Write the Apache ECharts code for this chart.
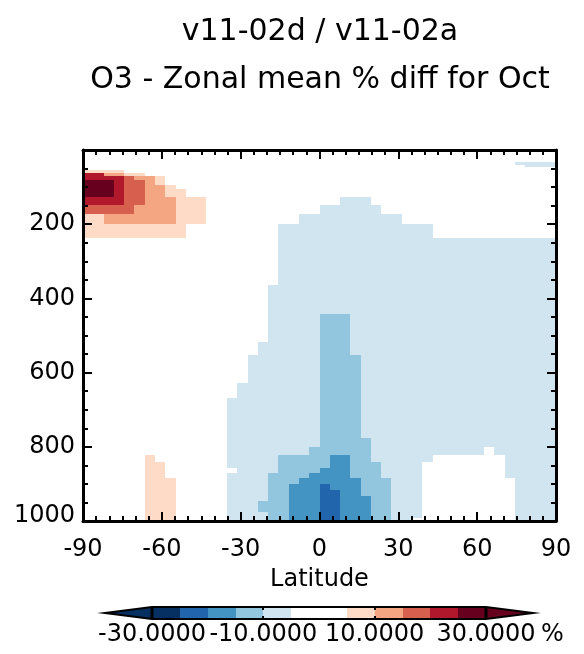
<!DOCTYPE html>
<html><head><meta charset="utf-8"><title>O3 zonal mean % diff</title>
<script src="https://cdn.jsdelivr.net/npm/echarts@6.0.0/dist/echarts.min.js"></script>
<style>html,body{margin:0;padding:0;background:#fff;}#chart{width:584px;height:654px;}</style>
</head><body><div id="chart"></div>
<script>
// ---- titles ----
const TITLE_1 = 'v11-02d / v11-02a';
const TITLE_2 = 'O3 - Zonal mean % diff for Oct';
const X_NAME = 'Latitude';
const UNIT = '%';

// ---- grid: 46 latitude cells spanning -90..90, pressure bands (hPa) ----
const N_LAT_CELLS = 46;
const LAT_EDGES = Array.from({length: N_LAT_CELLS + 1}, (_, i) => -90 + i * 180 / N_LAT_CELLS);
const P_EDGES = [32, 39.5, 46.5, 54, 62, 70, 81, 93.5, 106, 126, 147.5, 172, 199, 236.5, 364, 442, 518,
                 552.5, 628, 668.5, 776, 801, 822, 841, 857, 871, 884.5, 901, 916.5, 932.5, 946, 977, 992, 1000];

// ---- % difference, one row per pressure band (top to bottom), 46 latitude cells each ----
const PCT_DIFF = [
 [0,0,0,0,0,0,0,0,0,0, 0,0,0,0,0,0,0,0,0,0, 0,0,0,0,0,0,0,0,0,0, 0,0,0,0,0,0,0,0,0,0, 0,0,-7,-7,-7,-7],
 [0,0,0,0,0,0,0,0,0,0, 0,0,0,0,0,0,0,0,0,0, 0,0,0,0,0,0,0,0,0,0, 0,0,0,0,0,0,0,0,0,0, 0,0,0,-7,-7,-7],
 [0,0,0,0,0,0,0,0,0,0, 0,0,0,0,0,0,0,0,0,0, 0,0,0,0,0,0,0,0,0,0, 0,0,0,0,0,0,0,0,0,0, 0,0,0,0,0,0],
 [7,7,7,7,0,0,0,0,0,0, 0,0,0,0,0,0,0,0,0,0, 0,0,0,0,0,0,0,0,0,0, 0,0,0,0,0,0,0,0,0,0, 0,0,0,0,0,0],
 [22,22,12,12,7,7,0,0,0,0, 0,0,0,0,0,0,0,0,0,0, 0,0,0,0,0,0,0,0,0,0, 0,0,0,0,0,0,0,0,0,0, 0,0,0,0,0,0],
 [22,22,22,22,17,12,12,7,0,0, 0,0,0,0,0,0,0,0,0,0, 0,0,0,0,0,0,0,0,0,0, 0,0,0,0,0,0,0,0,0,0, 0,0,0,0,0,0],
 [27,27,27,22,17,17,12,7,0,0, 0,0,0,0,0,0,0,0,0,0, 0,0,0,0,0,0,0,0,0,0, 0,0,0,0,0,0,0,0,0,0, 0,0,0,0,0,0],
 [27,27,27,22,17,17,12,12,7,0, 0,0,0,0,0,0,0,0,0,0, 0,0,0,0,0,0,0,0,0,0, 0,0,0,0,0,0,0,0,0,0, 0,0,0,0,0,0],
 [27,27,27,22,17,17,12,12,7,7, 0,0,0,0,0,0,0,0,0,0, 0,0,0,0,0,0,0,0,0,0, 0,0,0,0,0,0,0,0,0,0, 0,0,0,0,0,0],
 [22,22,22,22,17,17,12,12,12,7, 7,7,0,0,0,0,0,0,0,0, 0,0,0,0,0,-7,-7,-7,0,0, 0,0,0,0,0,0,0,0,0,0, 0,0,0,0,0,0],
 [17,17,17,17,17,12,12,12,12,7, 7,7,0,0,0,0,0,0,0,0, 0,0,0,-7,-7,-7,-7,-7,-7,0, 0,0,0,0,0,0,0,0,0,0, 0,0,0,0,0,0],
 [7,7,12,12,12,12,12,12,12,7, 7,7,0,0,0,0,0,0,0,0, 0,-7,-7,-7,-7,-7,-7,-7,-7,-7, -7,0,0,0,0,0,0,0,0,0, 0,0,0,0,0,0],
 [7,7,7,7,7,7,7,7,7,7, 0,0,0,0,0,0,0,0,0,-7, -7,-7,-7,-7,-7,-7,-7,-7,-7,-7, -7,-7,-7,-7,0,0,0,0,0,0, 0,0,0,0,0,0],
 [0,0,0,0,0,0,0,0,0,0, 0,0,0,0,0,0,0,0,0,-7, -7,-7,-7,-7,-7,-7,-7,-7,-7,-7, -7,-7,-7,-7,-7,-7,-7,-7,-7,-7, -7,-7,-7,-7,-7,-7],
 [0,0,0,0,0,0,0,0,0,0, 0,0,0,0,0,0,0,0,-7,-7, -7,-7,-7,-7,-7,-7,-7,-7,-7,-7, -7,-7,-7,-7,-7,-7,-7,-7,-7,-7, -7,-7,-7,-7,-7,-7],
 [0,0,0,0,0,0,0,0,0,0, 0,0,0,0,0,0,0,0,-7,-7, -7,-7,-7,-12,-12,-12,-7,-7,-7,-7, -7,-7,-7,-7,-7,-7,-7,-7,-7,-7, -7,-7,-7,-7,-7,-7],
 [0,0,0,0,0,0,0,0,0,0, 0,0,0,0,0,0,0,-7,-7,-7, -7,-7,-7,-12,-12,-12,-7,-7,-7,-7, -7,-7,-7,-7,-7,-7,-7,-7,-7,-7, -7,-7,-7,-7,-7,-7],
 [0,0,0,0,0,0,0,0,0,0, 0,0,0,0,0,0,-7,-7,-7,-7, -7,-7,-7,-12,-12,-12,-12,-7,-7,-7, -7,-7,-7,-7,-7,-7,-7,-7,-7,-7, -7,-7,-7,-7,-7,-7],
 [0,0,0,0,0,0,0,0,0,0, 0,0,0,0,0,-7,-7,-7,-7,-7, -7,-7,-7,-12,-12,-12,-12,-7,-7,-7, -7,-7,-7,-7,-7,-7,-7,-7,-7,-7, -7,-7,-7,-7,-7,-7],
 [0,0,0,0,0,0,0,0,0,0, 0,0,0,0,-7,-7,-7,-7,-7,-7, -7,-7,-7,-12,-12,-12,-12,-7,-7,-7, -7,-7,-7,-7,-7,-7,-7,-7,-7,-7, -7,-7,-7,-7,-7,-7],
 [0,0,0,0,0,0,0,0,0,0, 0,0,0,0,-7,-7,-7,-7,-7,-7, -7,-7,-7,-12,-12,-12,-12,-12,-7,-7, -7,-7,-7,-7,-7,-7,-7,-7,-7,-7, -7,-7,-7,-7,-7,-7],
 [0,0,0,0,0,0,0,0,0,0, 0,0,0,0,-7,-7,-7,-7,-7,-7, -7,-7,-12,-12,-12,-12,-12,-12,-7,-7, -7,-7,-7,-7,-7,-7,-7,-7,-7,0, -7,-7,-7,-7,-7,-7],
 [0,0,0,0,0,0,7,0,0,0, 0,0,0,0,-7,-7,-7,-7,-7,-12, -12,-12,-12,-12,-17,-17,-12,-12,-7,-7, -7,-7,-7,-7,0,0,0,0,0,0, 0,-7,-7,-7,-7,-7],
 [0,0,0,0,0,0,7,7,0,0, 0,0,0,0,-7,-7,-7,-7,-7,-12, -12,-12,-12,-12,-17,-17,-12,-12,-12,-7, -7,-7,-7,0,0,0,0,0,0,0, 0,-7,-7,-7,-7,-7],
 [0,0,0,0,0,0,7,7,0,0, 0,0,0,0,0,-7,-7,-7,-7,-12, -12,-12,-12,-17,-17,-17,-12,-12,-12,-7, -7,-7,-7,0,0,0,0,0,0,0, 0,-7,-7,-7,-7,-7],
 [0,0,0,0,0,0,7,7,0,0, 0,0,0,0,-7,-7,-7,-7,-12,-12, -12,-12,-17,-17,-17,-17,-12,-12,-12,-7, -7,-7,-7,0,0,0,0,0,0,0, 0,-7,-7,-7,-7,-7],
 [0,0,0,0,0,0,7,7,7,0, 0,0,0,0,-7,-7,-7,-7,-12,-12, -12,-17,-17,-17,-17,-17,-17,-12,-12,-12, -7,-7,-7,0,0,0,0,0,0,0, 0,0,-7,-7,-7,-7],
 [0,0,0,0,0,0,7,7,7,0, 0,0,0,0,-7,-7,-7,-7,-12,-12, -17,-17,-17,-22,-17,-17,-17,-12,-12,-12, -7,-7,-7,0,0,0,0,0,0,0, 0,0,-7,-7,-7,-7],
 [0,0,0,0,0,0,7,7,7,0, 0,0,0,0,-7,-7,-7,-7,-12,-12, -17,-17,-17,-22,-22,-17,-17,-12,-12,-12, -7,-7,-7,0,0,0,0,0,0,0, 0,0,-7,-7,-7,-7],
 [0,0,0,0,0,0,7,7,7,0, 0,0,0,0,-7,-7,-7,-7,-12,-12, -17,-17,-17,-22,-22,-17,-17,-17,-12,-12, -7,-7,-7,0,0,0,0,0,0,0, 0,0,-7,-7,-7,-7],
 [0,0,0,0,0,0,7,7,7,0, 0,0,0,0,-7,-7,-7,-12,-12,-12, -17,-17,-17,-22,-22,-17,-17,-17,-12,-12, -7,-7,-7,0,0,0,0,0,0,0, 0,0,-7,-7,-7,-7],
 [0,0,0,0,0,0,7,7,7,0, 0,0,0,0,-7,-7,-7,-7,-12,-12, -17,-17,-17,-22,-22,-17,-17,-17,-12,-12, -7,-7,-7,0,0,0,0,0,0,0, 0,0,-7,-7,-7,-7],
 [0,0,0,0,0,0,7,7,7,0, 0,0,0,0,-7,-7,-7,-7,-12,-12, -17,-17,-17,-22,-22,-17,-17,-17,-12,-12, -7,-7,0,0,0,0,0,0,0,0, 0,0,-7,-7,-7,-7]
];

// ---- axes ----
const X_TICKS = [-90, -60, -30, 0, 30, 60, 90];
const Y_TICKS = [200, 400, 600, 800, 1000];

// ---- colour scale ----
const CB_LEVELS = [-30, -25, -20, -15, -10, -5, 0, 5, 10, 15, 20, 25, 30];
const CB_COLORS = ['#053061', '#2166ac', '#4393c3', '#92c5de', '#d1e5f0', '#ffffff',
                   '#ffffff', '#fddbc7', '#f4a582', '#d6604d', '#b2182b', '#67001f'];
const CB_UNDER = '#053061';
const CB_OVER = '#67001f';
const CB_LABELS = [-30, -10, 10, 30];

function colorFor(v) {
  if (v < CB_LEVELS[0]) return CB_UNDER;
  for (let i = 0; i < CB_COLORS.length; i++) {
    if (v >= CB_LEVELS[i] && v < CB_LEVELS[i + 1]) return CB_COLORS[i];
  }
  return CB_OVER;
}

const cells = [];
PCT_DIFF.forEach((row, r) => row.forEach((v, c) => cells.push([c, r, v])));
const cbSlots = CB_COLORS.map((col, i) => [i, 0]);

const FONT = 'DejaVu Sans';
const BLACK = '#000';

function frameAxis(extra) {
  return Object.assign({
    type: 'value',
    axisLine: {show: true, onZero: false, lineStyle: {color: BLACK, width: 3}},
    axisTick: {show: true, inside: true, length: 9, lineStyle: {color: BLACK, width: 2}},
    minorTick: {show: true, length: 5, lineStyle: {color: BLACK, width: 2}},
    splitLine: {show: false},
    minorSplitLine: {show: false},
    z: 5
  }, extra);
}

const chart = echarts.init(document.getElementById('chart'), null, {renderer: 'canvas'});
chart.setOption({
  animation: false,
  backgroundColor: '#ffffff',
  textStyle: {fontFamily: FONT},
  grid: [
    {left: 83, top: 150, width: 473, height: 371},
    {left: 152, top: 607, width: 334, height: 12}
  ],
  xAxis: [
    frameAxis({gridIndex: 0, position: 'bottom', min: X_TICKS[0], max: X_TICKS[X_TICKS.length - 1], interval: 30,
      minorTick: {show: true, splitNumber: 6, length: 5, lineStyle: {color: BLACK, width: 2}},
      name: X_NAME, nameLocation: 'middle', nameGap: 47,
      nameTextStyle: {fontFamily: FONT, fontSize: 24, color: BLACK},
      axisLabel: {show: true, fontFamily: FONT, fontSize: 24, color: BLACK, margin: 17}}),
    frameAxis({gridIndex: 0, position: 'top', min: X_TICKS[0], max: X_TICKS[X_TICKS.length - 1], interval: 30,
      minorTick: {show: true, splitNumber: 6, length: 5, lineStyle: {color: BLACK, width: 2}},
      axisLabel: {show: false}}),
    {gridIndex: 1, type: 'value', min: CB_LEVELS[0], max: CB_LEVELS[CB_LEVELS.length - 1],
      axisLine: {show: false}, axisTick: {show: false}, splitLine: {show: false},
      axisLabel: {show: true, customValues: CB_LABELS, formatter: v => Number(v).toFixed(4),
        fontFamily: FONT, fontSize: 24, color: BLACK, margin: 4}}
  ],
  yAxis: [
    frameAxis({gridIndex: 0, position: 'left', inverse: true, min: 0, max: 1000, interval: 200,
      minorTick: {show: true, splitNumber: 4, length: 5, lineStyle: {color: BLACK, width: 2}},
      axisLabel: {show: true, fontFamily: FONT, fontSize: 24, color: BLACK, margin: 8,
        formatter: v => (Y_TICKS.indexOf(v) < 0 ? '' : (v === 1000 ? '{b|' + v + '}' : String(v))),
        rich: {b: {fontFamily: FONT, fontSize: 24, color: BLACK, padding: [0, 0, 10, 0]}}}}),
    frameAxis({gridIndex: 0, position: 'right', inverse: true, min: 0, max: 1000, interval: 200,
      minorTick: {show: true, splitNumber: 4, length: 5, lineStyle: {color: BLACK, width: 2}},
      axisLabel: {show: false}}),
    {gridIndex: 1, type: 'value', min: 0, max: 1, show: false}
  ],
  series: [
    {
      type: 'custom', name: 'O3 % diff', xAxisIndex: 0, yAxisIndex: 0, clip: true, z: 2,
      data: cells, encode: {x: 0, y: 1},
      renderItem: function (params, api) {
        const c = api.value(0), r = api.value(1), v = api.value(2);
        const a = api.coord([LAT_EDGES[c], P_EDGES[r]]);
        const b = api.coord([LAT_EDGES[c + 1], P_EDGES[r + 1]]);
        const x = Math.round(a[0]), y = Math.round(a[1]);
        return {type: 'rect', shape: {x: x, y: y, width: Math.round(b[0]) - x, height: Math.round(b[1]) - y},
          style: {fill: colorFor(v)}};
      }
    },
    {
      type: 'custom', name: 'colorbar', xAxisIndex: 2, yAxisIndex: 2, clip: false, z: 2,
      data: cbSlots, encode: {x: 0, y: 1},
      renderItem: function (params, api) {
        const i = api.value(0);
        const a = api.coord([CB_LEVELS[i], 1]);
        const b = api.coord([CB_LEVELS[i + 1], 0]);
        const x = Math.round(a[0]), y = Math.round(a[1]);
        return {type: 'rect', shape: {x: x, y: y, width: Math.round(b[0]) - x, height: Math.round(b[1]) - y},
          style: {fill: CB_COLORS[i]}};
      }
    },
    {
      type: 'custom', name: 'colorbar frame', xAxisIndex: 2, yAxisIndex: 2, clip: false, z: 3,
      data: [[CB_LEVELS[0], 0]], encode: {x: 0, y: 1},
      renderItem: function (params, api) {
        const lo = api.coord([CB_LEVELS[0], 1]);
        const hi = api.coord([CB_LEVELS[CB_LEVELS.length - 1], 0]);
        const x0 = Math.round(lo[0]), x1 = Math.round(hi[0]);
        const y0 = Math.round(lo[1]), y1 = Math.round(hi[1]);
        const ym = (y0 + y1) / 2, tri = 47;
        const children = [
          {type: 'polygon', shape: {points: [[x0, y0], [x0 - tri, ym], [x0, y1]]}, style: {fill: CB_UNDER}},
          {type: 'polygon', shape: {points: [[x1, y0], [x1 + tri, ym], [x1, y1]]}, style: {fill: CB_OVER}},
          {type: 'polygon', shape: {points: [[x0 - tri, ym], [x0, y0], [x1, y0], [x1 + tri, ym], [x1, y1], [x0, y1]]},
            style: {fill: 'none', stroke: BLACK, lineWidth: 2}},
          {type: 'line', shape: {x1: x0, y1: y0, x2: x0, y2: y1}, style: {stroke: BLACK, lineWidth: 3}},
          {type: 'line', shape: {x1: x1, y1: y0, x2: x1, y2: y1}, style: {stroke: BLACK, lineWidth: 3}}
        ];
        CB_LABELS.forEach(function (lv) {
          const p = Math.round(api.coord([lv, 0])[0]);
          children.push({type: 'line', shape: {x1: p, y1: y0, x2: p, y2: y0 + 3}, style: {stroke: BLACK, lineWidth: 2}});
          children.push({type: 'line', shape: {x1: p, y1: y1, x2: p, y2: y1 - 3}, style: {stroke: BLACK, lineWidth: 2}});
        });
        return {type: 'group', children: children};
      }
    }
  ],
  graphic: [
    {type: 'text', x: 320, y: 32, style: {text: TITLE_1, fontFamily: FONT, fontSize: 30, fill: BLACK,
      textAlign: 'center', textVerticalAlign: 'middle', align: 'center', verticalAlign: 'middle'}},
    {type: 'text', x: 320, y: 80, style: {text: TITLE_2, fontFamily: FONT, fontSize: 30, fill: BLACK,
      textAlign: 'center', textVerticalAlign: 'middle', align: 'center', verticalAlign: 'middle'}},
    {type: 'text', x: 541, y: 635, style: {text: UNIT, fontFamily: FONT, fontSize: 24, fill: BLACK,
      textAlign: 'left', textVerticalAlign: 'middle', align: 'left', verticalAlign: 'middle'}}
  ]
});
</script></body></html>
